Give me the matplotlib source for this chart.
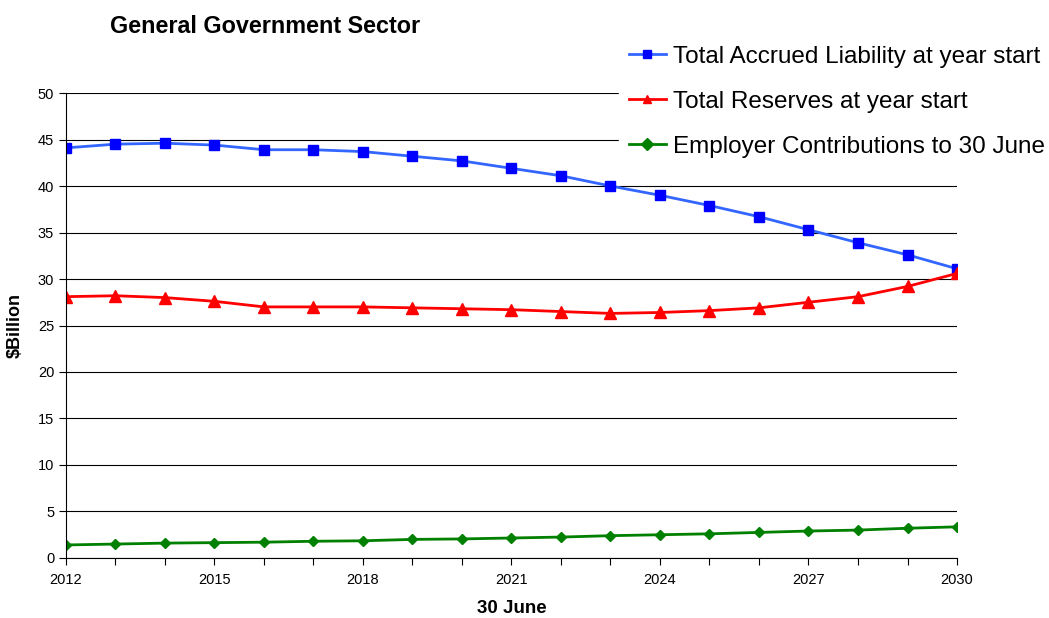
import matplotlib
matplotlib.use("Agg")
import matplotlib.pyplot as plt
from matplotlib.ticker import MultipleLocator

plt.rcParams['font.family'] = ['Liberation Sans', 'DejaVu Sans']

years = list(range(2012, 2031))
liability = [44.1, 44.5, 44.6, 44.4, 43.9, 43.9, 43.7, 43.2, 42.7, 41.9,
             41.1, 40.0, 39.0, 37.9, 36.7, 35.3, 33.9, 32.6, 31.1]
reserves = [28.1, 28.2, 28.0, 27.6, 27.0, 27.0, 27.0, 26.9, 26.8, 26.7,
            26.5, 26.3, 26.4, 26.6, 26.9, 27.5, 28.1, 29.2, 30.6]
contributions = [1.4, 1.5, 1.6, 1.65, 1.7, 1.8, 1.85, 2.0, 2.05, 2.15,
                 2.25, 2.4, 2.5, 2.6, 2.75, 2.9, 3.0, 3.2, 3.35]
labels = ["Total Accrued Liability at year start",
          "Total Reserves at year start",
          "Employer Contributions to 30 June"]
year_ticks = [2012, 2015, 2018, 2021, 2024, 2027, 2030]

fig = plt.figure(figsize=(10.49, 6.18), dpi=100)
ax = fig.add_axes([0.0629, 0.0971, 0.8494, 0.7524])

l1, = ax.plot(years, liability, color='#3366ff', lw=2, marker='s', ms=7,
              mfc='#0000ff', mec='#0000ff', label=labels[0])
l2, = ax.plot(years, reserves, color='#ff0000', lw=2, marker='^', ms=8,
              mfc='#ff0000', mec='#ff0000', label=labels[1])
l3, = ax.plot(years, contributions, color='#008000', lw=2, marker='D', ms=5.5,
              mfc='#008000', mec='#008000', label=labels[2])

ax.set_xlim(2012, 2030)
ax.set_ylim(0, 50)
ax.set_xticks(year_ticks)
ax.set_xticks(years, minor=True)
ax.yaxis.set_major_locator(MultipleLocator(5))
ax.grid(axis='y', color='black', lw=0.8)
ax.set_axisbelow(True)
for s in ['top', 'right']:
    ax.spines[s].set_visible(False)
ax.tick_params(axis='both', which='both', direction='out', length=5,
               labelsize=10.5, width=0.8)
ax.tick_params(axis='x', pad=6)

ax.set_ylabel('$Billion', fontsize=13, fontweight='bold', labelpad=10)
ax.set_xlabel('30 June', fontsize=13.5, fontweight='bold', labelpad=9)

fig.text(0.105, 0.957, 'General Government Sector', fontsize=16.8,
         fontweight='bold', va='center', ha='left')

leg = fig.legend(handles=[l1, l2, l3], loc='upper right',
                 bbox_to_anchor=(1.0076, 0.946), fontsize=17.5, frameon=True,
                 handlelength=1.5, labelspacing=0.95, handletextpad=0.3,
                 borderpad=0.4, borderaxespad=0.1, fancybox=False,
                 edgecolor='white', facecolor='white', framealpha=1)
for h in leg.legend_handles:
    h.set_markersize(6)

fig.savefig('out.png', dpi=100)
